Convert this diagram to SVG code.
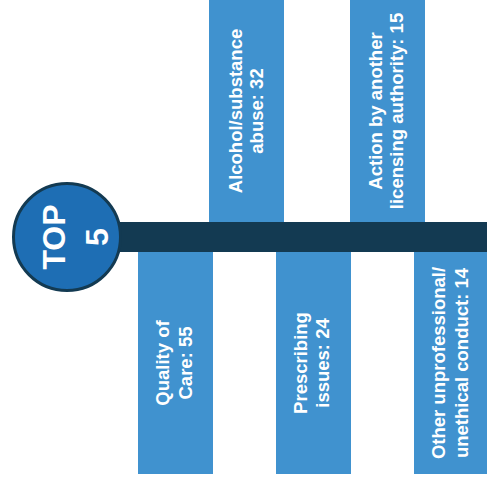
<svg xmlns="http://www.w3.org/2000/svg" width="487" height="483" viewBox="0 0 487 483">
<style>
.bar{fill:#4092CF}
.lbl{font-family:"Liberation Sans",Arial,sans-serif;font-weight:bold;font-size:18.5px;fill:#fff;text-anchor:middle}
.top{font-family:"Liberation Sans",Arial,sans-serif;font-weight:bold;font-size:32px;fill:#fff;text-anchor:middle}
</style>
<rect width="487" height="483" fill="#fff"/>
<g id="connectors">
<rect x="100" y="222" width="387" height="30" fill="#133A52"/>
</g>
<g id="alcohol">
<rect class="bar" x="209" y="0" width="75" height="222"/>
<text class="lbl" transform="translate(246,111) rotate(-90)"><tspan x="0" y="-4">Alcohol/substance</tspan><tspan x="0" y="17">abuse: 32</tspan></text>
</g>
<g id="action">
<rect class="bar" x="350" y="0" width="75" height="222"/>
<text class="lbl" transform="translate(387.5,111) rotate(-90)"><tspan x="0" y="-5.5">Action by another</tspan><tspan x="0" y="15">licensing authority: 15</tspan></text>
</g>
<g id="quality">
<rect class="bar" x="138" y="252" width="75" height="222"/>
<text class="lbl" transform="translate(175.5,363) rotate(-90)"><tspan x="0" y="-6.5">Quality of</tspan><tspan x="0" y="16.5">Care: 55</tspan></text>
</g>
<g id="prescribing">
<rect class="bar" x="276" y="252" width="75" height="222"/>
<text class="lbl" transform="translate(313.5,363) rotate(-90)"><tspan x="0" y="-6.5">Prescribing</tspan><tspan x="0" y="15.5">issues: 24</tspan></text>
</g>
<g id="other">
<rect class="bar" x="414" y="252" width="73" height="222"/>
<text class="lbl" transform="translate(450.5,363) rotate(-90)"><tspan x="0" y="-5.5">Other unprofessional/</tspan><tspan x="0" y="17.5">unethical conduct: 14</tspan></text>
</g>
<g id="top5">
<circle cx="67" cy="237" r="53.5" fill="#1E6EB4" stroke="#133A52" stroke-width="3"/>
<text class="top" transform="translate(67,237) rotate(-90)"><tspan x="0" y="-2">TOP</tspan><tspan x="0" y="41">5</tspan></text>
</g>
</svg>
